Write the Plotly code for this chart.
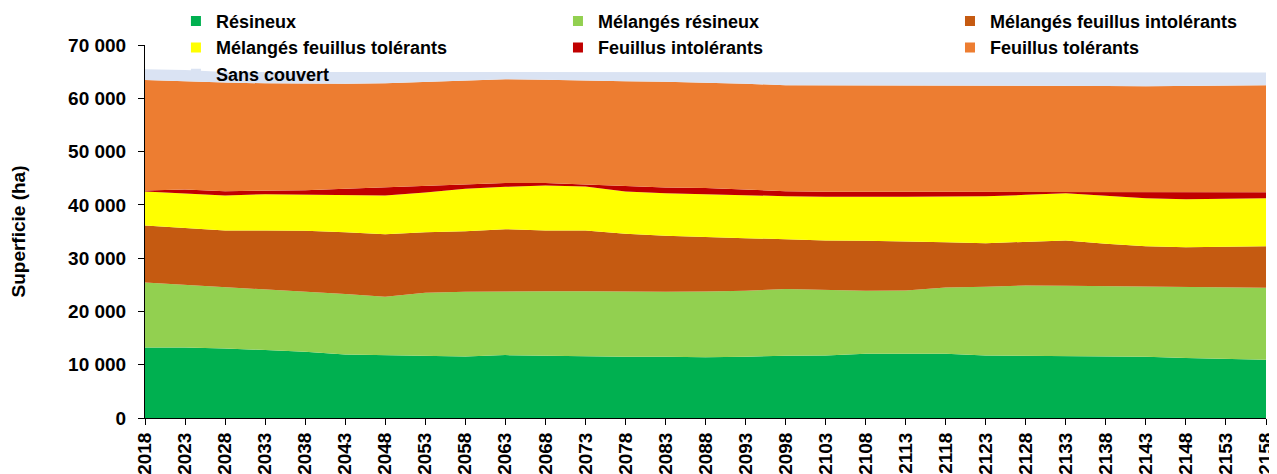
import plotly.graph_objects as go

years = list(range(2018, 2159, 5))

resineux = [13250, 13250, 13060, 12800, 12440, 11900, 11800, 11750, 11560, 11800,
            11700, 11500, 11500, 11500, 11400, 11500, 11700, 11750, 12060, 12060,
            12060, 11750, 11700, 11560, 11560, 11500, 11250, 11060, 10940]
melanges_resineux = [12190, 11750, 11630, 11450, 11310, 11350, 10950, 11750, 12130, 12010,
                     12110, 12310, 12190, 12190, 12350, 12380, 12490, 12250, 11820, 11880,
                     12440, 12880, 13180, 13250, 13190, 13130, 13310, 13440, 13500]
melanges_feuillus_intolerants = [10685, 10625, 10500, 10940, 11375, 11625, 11750, 11375, 11370, 11630,
                                 11380, 11380, 10870, 10500, 10150, 9870, 9370, 9310, 9370, 9250,
                                 8500, 8180, 8120, 8500, 7940, 7620, 7500, 7625, 7810]
melanges_feuillus_tolerants = [6375, 6565, 6560, 6810, 6815, 6935, 7250, 7435, 7940, 7935,
                               8435, 8250, 7940, 8000, 8070, 8000, 8065, 8190, 8190, 8310,
                               8560, 8815, 8875, 8880, 9000, 9000, 9000, 9000, 9000]
feuillus_intolerants = [190, 685, 810, 625, 810, 1190, 1560, 1250, 875, 750,
                        500, 370, 1060, 1060, 1210, 1060, 935, 940, 1060, 940,
                        880, 815, 565, 250, 685, 1125, 1315, 1250, 1125]
feuillus_tolerants = [20750, 20250, 20380, 20185, 20000, 19750, 19500, 19500, 19435, 19435,
                      19375, 19500, 19630, 19870, 19820, 19940, 19880, 20000, 19940, 19940,
                      19940, 19940, 19940, 19870, 19935, 19875, 19935, 20005, 20065]
sans_couvert = [2010, 2175, 2010, 2140, 2200, 2200, 2140, 1890, 1640, 1390,
                1450, 1640, 1760, 1730, 1850, 2100, 2410, 2410, 2410, 2470,
                2470, 2470, 2470, 2540, 2540, 2600, 2540, 2470, 2410]

# name, values, colour, legend column
series = [
    ("Résineux", resineux, "#00B050", "legend"),
    ("Mélangés résineux", melanges_resineux, "#92D050", "legend2"),
    ("Mélangés feuillus intolérants", melanges_feuillus_intolerants, "#C55A11", "legend3"),
    ("Mélangés feuillus tolérants", melanges_feuillus_tolerants, "#FFFF00", "legend"),
    ("Feuillus intolérants", feuillus_intolerants, "#C00000", "legend2"),
    ("Feuillus tolérants", feuillus_tolerants, "#ED7D31", "legend3"),
    ("Sans couvert", sans_couvert, "#DAE3F3", "legend"),
]

fig = go.Figure()

# stacked areas
for name, values, color, leg in series:
    fig.add_trace(
        go.Scatter(
            x=years,
            y=values,
            name=name,
            mode="lines",
            stackgroup="one",
            line={"width": 0, "color": color},
            fillcolor=color,
            showlegend=False,
        )
    )

# legend entries with square keys
for name, values, color, leg in series:
    fig.add_trace(
        go.Scatter(
            x=[None],
            y=[None],
            name=name,
            mode="markers",
            marker={"symbol": "square", "size": 10, "color": color},
            legend=leg,
        )
    )

legend_font = {"size": 18, "family": "Liberation Sans, Arial, sans-serif", "weight": "bold"}
legend_common = dict(
    orientation="v",
    traceorder="normal",
    xanchor="left",
    y=1.113,
    yanchor="top",
    bgcolor="rgba(0,0,0,0)",
    font=legend_font,
    tracegroupgap=0,
)

# page body adds 8px around the figure, so the figure is 8px smaller
fig.update_layout(
    width=1269,
    height=466,
    margin=dict(l=137, r=11, t=37, b=56, autoexpand=False),
    paper_bgcolor="white",
    plot_bgcolor="white",
    separators=". ",
    font={"family": "Liberation Sans, Arial, sans-serif", "color": "black"},
    showlegend=True,
    legend=dict(x=0.0276, **legend_common),
    legend2=dict(x=0.3684, **legend_common),
    legend3=dict(x=0.7181, **legend_common),
)

fig.update_xaxes(
    range=[2018, 2158],
    tickvals=years,
    tickangle=-90,
    ticks="outside",
    ticklen=6,
    tickcolor="black",
    ticklabelstandoff=0,
    showline=True,
    linecolor="black",
    linewidth=1,
    showgrid=False,
    zeroline=False,
    tickfont={"size": 19, "weight": "bold"},
)

fig.update_yaxes(
    range=[0, 70000],
    dtick=10000,
    tickformat=",d",
    ticks="outside",
    ticklen=6,
    tickcolor="black",
    ticklabelstandoff=8,
    showline=True,
    linecolor="black",
    linewidth=1,
    showgrid=False,
    zeroline=False,
    tickfont={"size": 19, "weight": "bold"},
    title={"text": "Superficie (ha)", "font": {"size": 19, "weight": "bold"}, "standoff": 45},
)

fig.write_html("out.html")
